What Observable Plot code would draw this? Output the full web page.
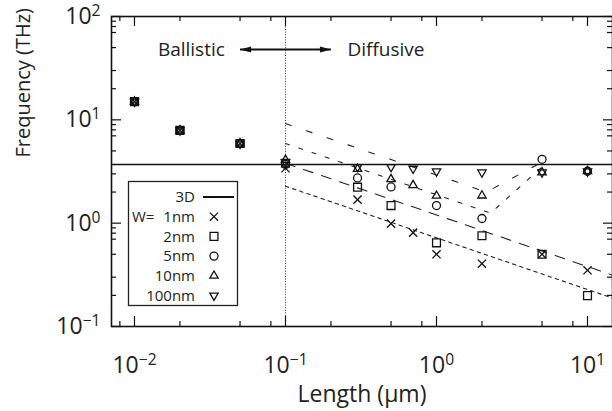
<!DOCTYPE html>
<html><head><meta charset="utf-8">
<script src="https://cdn.jsdelivr.net/npm/d3@7"></script>
<script src="https://cdn.jsdelivr.net/npm/@observablehq/plot@0.6"></script>
<style>
body{margin:0;background:#fff;}
#wrap{position:relative;width:612px;height:411px;font-family:"Open Sans",sans-serif;}
</style></head><body><div id="wrap"></div>
<script>
// ---- data ----
const lengths   = [0.01, 0.02, 0.05, 0.1, 0.3, 0.5, 0.7, 1, 2, 5, 10];
const freq1nm   = [15, 7.9, 5.9, 3.4, 1.69, 0.99, 0.81, 0.50, 0.405, 0.50, 0.35];
const freq2nm   = [15, 7.9, 5.9, 3.8, 2.23, 1.48, null, 0.645, 0.755, 0.50, 0.199];
const freq5nm   = [15, 7.9, 5.9, 3.7, 2.74, 2.24, null, 1.48, 1.11, 4.15, 3.18];
const freq10nm  = [15, 7.9, 5.9, 4.1, 3.35, 2.66, 2.33, 1.84, 1.85, 3.1, 3.18];
const freq100nm = [15, 7.9, 5.9, 3.9, 3.5, 3.5, 3.37, 3.17, 3.1, 3.1, 3.18];
const seriesNames = ["1nm", "2nm", "5nm", "10nm", "100nm"];
const bulk3D = 3.7;
const boundaryL = 0.1;
const fitA_L = [0.1, 2.14, 5],  fitA_F = [9.2, 2.0, 3.9];
const fitB_L = [0.1, 2.28, 5],  fitB_F = [5.9, 1.25, 3.5];
const fitC_L = [0.1, 14.6],     fitC_F = [3.8, 0.3145];
const fitD_L = [0.1, 14.6],     fitD_F = [2.28, 0.1887];
const regimeText = ["Ballistic", "Diffusive"];
const regimeL = [0.0238, 0.463];
const regimeF = 48;
const arrowEndsL = [0.05, 0.2];
const xMajor = [0.01, 0.1, 1, 10];
const xTickExp = ["−2", "−1", "0", "1"];
const xMinor = [0.008, 0.02, 0.05, 0.08, 0.2, 0.5, 0.8, 2, 5, 8];
const yMajor = [0.1, 1, 10, 100];
const yTickExp = ["−1", "0", "1", "2"];
const yMinor = [0.2, 0.3, 0.5, 0.7, 0.8, 0.9, 2, 3, 5, 7, 8, 9, 20, 30, 50, 70, 80, 90];
const xTitle = "Length (μm)";
const yTitle = "Frequency (THz)";

// ---- layout ----
const W = 612, H = 411, mL = 111, mR = 0, mT = 16, mB = 85;
const pw = W - mL - mR, ph = H - mT - mB;
const font = '"Open Sans", sans-serif';

const allSeries = [freq1nm, freq2nm, freq5nm, freq10nm, freq100nm];
const symbols = [
  {symbol: "times", r: 3.8, rotate: 0},
  {symbol: "square2", r: 5, rotate: 0},
  {symbol: "circle", r: 4, rotate: 0},
  {symbol: "triangle2", r: 4, rotate: 0},
  {symbol: "triangle2", r: 4, rotate: 180}
];
const pts = allSeries.map(vals => lengths.map((L, i) => ({L, F: vals[i]})).filter(d => d.F != null));

const arrowHead = {draw(ctx, size) {
  ctx.moveTo(0, 0); ctx.lineTo(-11, -3); ctx.lineTo(-11, 3); ctx.closePath();
}};

const line = (Ls, Fs, dash) => Plot.line(Ls.map((L, i) => ({L, F: Fs[i]})),
  {x: "L", y: "F", stroke: "#222", strokeWidth: 1.1, strokeDasharray: dash});

const marks = [
  Plot.ruleY([bulk3D], {y: d => d, stroke: "#111", strokeWidth: 1.6}),
  Plot.ruleX([boundaryL], {x: d => d, stroke: "#333", strokeWidth: 1, strokeDasharray: "1,1.6"}),
  line(fitA_L, fitA_F, "6,16"),
  line(fitB_L, fitB_F, "4,10"),
  line(fitC_L, fitC_F, "10,9"),
  line(fitD_L, fitD_F, "3.5,4"),
  ...pts.map((p, k) => Plot.dot(p, {x: "L", y: "F", symbol: symbols[k].symbol, r: symbols[k].r,
      rotate: symbols[k].rotate, stroke: "#111", fill: "none", strokeWidth: 1.3})),
  // regime annotation
  Plot.text(regimeText, {x: (d, i) => regimeL[i], y: () => regimeF, text: d => d, fontSize: 19,
      fontFamily: font, fill: "#222"}),
  Plot.link([0], {x1: () => arrowEndsL[0], x2: () => arrowEndsL[1], y1: () => regimeF, y2: () => regimeF,
      stroke: "#111", strokeWidth: 2}),
  Plot.dot(arrowEndsL, {x: d => d, y: () => regimeF, symbol: arrowHead, r: 4, fill: "#111", stroke: "none",
      rotate: (d, i) => i === 0 ? 180 : 0}),
  // ticks
  Plot.tickX(xMajor, {x: d => d, insetTop: ph - 10, stroke: "#111", strokeWidth: 1.2}),
  Plot.tickX(xMajor, {x: d => d, insetBottom: ph - 10, stroke: "#111", strokeWidth: 1.2}),
  Plot.tickX(xMinor, {x: d => d, insetTop: ph - 5, stroke: "#111", strokeWidth: 1.2}),
  Plot.tickX(xMinor, {x: d => d, insetBottom: ph - 5, stroke: "#111", strokeWidth: 1.2}),
  Plot.tickY(yMajor, {y: d => d, insetRight: pw - 10, stroke: "#111", strokeWidth: 1.2}),
  Plot.tickY(yMajor, {y: d => d, insetLeft: pw - 9, stroke: "#111", strokeWidth: 1.2}),
  Plot.tickY(yMinor, {y: d => d, insetRight: pw - 5, stroke: "#111", strokeWidth: 1.2}),
  Plot.tickY(yMinor, {y: d => d, insetLeft: pw - 5, stroke: "#111", strokeWidth: 1.2}),
  Plot.frame({stroke: "#111", strokeWidth: 1.6}),
  // tick labels
  Plot.text(xMajor, {x: d => d, frameAnchor: "bottom", lineAnchor: "bottom", dy: 46,
      text: (d, i) => "10^" + xTickExp[i], fontSize: 23, fontFamily: font, fill: "#222"}),
  Plot.text(yMajor, {y: d => d, frameAnchor: "left", textAnchor: "end", dx: -11,
      text: (d, i) => "10^" + yTickExp[i], fontSize: 23, fontFamily: font, fill: "#222"}),
  // axis titles
  Plot.text([xTitle], {frameAnchor: "bottom", lineAnchor: "bottom", dy: 75, text: d => d,
      fontSize: 23, fontFamily: font, fill: "#222"}),
  Plot.text([yTitle], {frameAnchor: "left", dx: -88, dy: -14, rotate: -90, text: d => d,
      fontSize: 20, fontFamily: font, fill: "#222"})
];

const chart = Plot.plot({
  width: W, height: H, marginLeft: mL, marginRight: mR, marginTop: mT, marginBottom: mB,
  x: {type: "log", domain: [0.007043, 14.64], axis: null},
  y: {type: "log", domain: [0.1, 100], axis: null},
  style: {fontFamily: font, background: "#fff", overflow: "visible"},
  marks
});
document.getElementById("wrap").appendChild(chart);

// superscript exponents
const ns = "http://www.w3.org/2000/svg";
chart.querySelectorAll("text").forEach(t => {
  const s = t.textContent;
  if (s.includes("^")) {
    const [b, e] = s.split("^");
    t.textContent = b;
    const ts = document.createElementNS(ns, "tspan");
    ts.setAttribute("dy", "-0.5em");
    ts.setAttribute("font-size", "0.68em");
    ts.textContent = e;
    t.appendChild(ts);
  }
});

// legend (drawn in the same svg)
const lg = d3.select(chart).append("g").attr("font-family", font).attr("font-size", 15)
  .attr("fill", "#222").attr("text-anchor", "start");
const box = {x: 128.5, y: 181.5, w: 109, h: 124};
lg.append("rect").attr("x", box.x).attr("y", box.y).attr("width", box.w).attr("height", box.h)
  .attr("fill", "#fff").attr("stroke", "#222").attr("stroke-width", 1.3);
const rowY = k => 197 + k * 19.7;
const textX = 195, symX = 214;
lg.append("text").attr("x", textX).attr("y", rowY(0)).attr("dy", "0.35em").attr("text-anchor", "end").text("3D");
lg.append("line").attr("x1", 203).attr("x2", 234).attr("y1", rowY(0)).attr("y2", rowY(0))
  .attr("stroke", "#111").attr("stroke-width", 2);
lg.append("text").attr("x", 132).attr("y", rowY(1)).attr("dy", "0.35em").attr("text-anchor", "start").text("W=");
const d3sym = {times: d3.symbolTimes, square2: d3.symbolSquare2, circle: d3.symbolCircle, triangle2: d3.symbolTriangle2};
seriesNames.forEach((n, k) => {
  const y = rowY(k + 1);
  lg.append("text").attr("x", textX).attr("y", y).attr("dy", "0.35em").attr("text-anchor", "end").text(n);
  const s = symbols[k];
  lg.append("path").attr("d", d3.symbol(d3sym[s.symbol], Math.PI * s.r * s.r)())
    .attr("transform", `translate(${symX},${y}) rotate(${s.rotate})`)
    .attr("fill", "none").attr("stroke", "#111").attr("stroke-width", 1.3);
});
</script></body></html>
